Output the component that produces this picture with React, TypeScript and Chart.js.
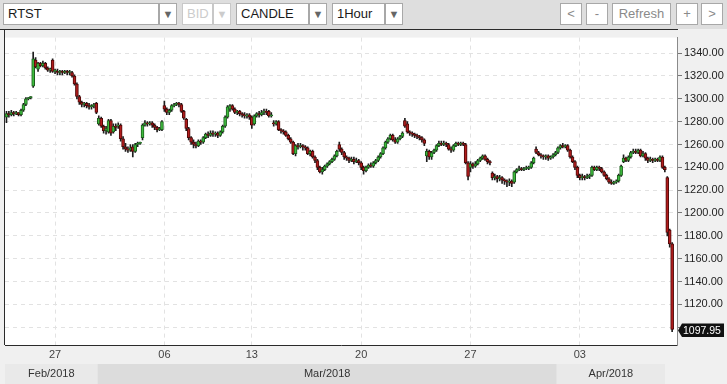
import React, { useEffect, useRef } from 'react';
import { Chart, registerables } from 'chart.js';
Chart.register(...registerables);

// ---- data (hourly candles, RTST) ----
const opens = [
  1284,1287,1286,1288,1287,1288,1286,1290,1295,1300,
  1301,1311,1334,1326,1331,1329,1331,1327,1325,1334,
  1324,1324,1323,1324,1323,1324,1323,1323,1320,1313,
  1302,1297,1295,1296,1294,1293,1294,1296,1278,1283,
  1276,1272,1271,1281,1271,1276,1276,1277,1265,1258,
  1256,1255,1258,1254,1260,1261,1266,1277,1279,1278,
  1279,1277,1275,1273,1273,1294,1291,1288,1290,1294,
  1295,1296,1295,1289,1282,1274,1266,1262,1260,1259,
  1263,1262,1266,1269,1268,1270,1269,1270,1268,1271,
  1276,1284,1291,1294,1291,1288,1289,1287,1286,1285,
  1286,1284,1278,1285,1287,1286,1288,1289,1289,1285,
  1279,1278,1280,1273,1272,1271,1268,1265,1262,1252,
  1259,1258,1259,1258,1257,1252,1254,1249,1246,1240,
  1236,1238,1241,1243,1245,1247,1250,1260,1256,1253,
  1249,1248,1246,1247,1245,1246,1244,1240,1237,1240,
  1242,1241,1244,1246,1249,1252,1257,1262,1265,1268,
  1264,1262,1265,1267,1281,1278,1271,1270,1269,1268,
  1267,1266,1264,1250,1254,1249,1253,1255,1259,1261,
  1260,1261,1260,1256,1255,1259,1261,1260,1261,1260,
  1244,1240,1243,1241,1243,1246,1248,1250,1247,1245,
  1235,1231,1232,1230,1231,1229,1228,1227,1228,1227,
  1236,1238,1239,1238,1239,1239,1240,1244,1256,1253,
  1251,1250,1249,1250,1248,1249,1251,1253,1257,1259,
  1258,1259,1255,1249,1245,1240,1233,1231,1232,1231,
  1232,1233,1240,1238,1240,1239,1236,1233,1230,1227,
  1226,1227,1228,1233,1245,1248,1246,1249,1253,1254,
  1253,1255,1250,1252,1248,1246,1247,1246,1247,1246,
  1249,1240,1231,1185,1173,
];
const highs = [
  1289,1289,1290,1289,1289,1288,1291,1296,1301,1301,
  1302,1341,1336,1332,1332,1333,1332,1328,1327,1335,
  1326,1326,1325,1325,1325,1325,1325,1324,1321,1314,
  1303,1298,1297,1297,1296,1295,1296,1297,1285,1284,
  1277,1276,1282,1282,1278,1278,1279,1278,1267,1261,
  1258,1260,1260,1261,1262,1262,1278,1281,1280,1280,
  1280,1278,1276,1275,1281,1298,1292,1291,1295,1296,
  1297,1297,1296,1290,1283,1275,1267,1264,1262,1264,
  1264,1267,1270,1271,1272,1272,1271,1271,1272,1277,
  1285,1294,1295,1295,1292,1290,1290,1288,1288,1287,
  1287,1285,1286,1288,1289,1290,1291,1291,1290,1288,
  1281,1281,1281,1274,1273,1272,1269,1266,1263,1260,
  1261,1261,1260,1259,1258,1255,1255,1250,1247,1241,
  1240,1242,1244,1246,1248,1251,1255,1262,1257,1254,
  1250,1249,1249,1249,1248,1247,1245,1241,1241,1243,
  1244,1245,1247,1250,1253,1258,1263,1266,1269,1269,
  1266,1266,1268,1271,1283,1280,1272,1271,1270,1269,
  1268,1267,1265,1256,1255,1254,1256,1260,1263,1263,
  1263,1262,1261,1258,1260,1262,1262,1262,1262,1261,
  1245,1245,1244,1245,1247,1249,1251,1251,1248,1246,
  1236,1234,1233,1233,1232,1230,1229,1230,1229,1237,
  1239,1241,1240,1240,1241,1241,1245,1249,1258,1254,
  1252,1251,1251,1251,1250,1252,1254,1258,1260,1261,
  1260,1260,1256,1250,1246,1241,1234,1234,1233,1234,
  1234,1241,1241,1241,1241,1240,1237,1234,1231,1229,
  1228,1229,1234,1242,1251,1249,1250,1254,1256,1256,
  1256,1256,1254,1253,1249,1249,1248,1248,1248,1250,
  1250,1241,1232,1186,1174,
];
const lows = [
  1279,1284,1285,1285,1286,1285,1285,1289,1294,1299,
  1300,1310,1327,1324,1328,1328,1326,1324,1323,1323,
  1322,1321,1321,1321,1322,1321,1321,1319,1312,1300,
  1295,1293,1293,1292,1291,1291,1292,1287,1277,1275,
  1270,1269,1270,1268,1270,1272,1274,1263,1256,1254,
  1253,1254,1249,1253,1258,1260,1264,1276,1276,1277,
  1275,1273,1271,1272,1272,1289,1286,1286,1289,1293,
  1294,1293,1288,1282,1272,1264,1260,1257,1257,1258,
  1260,1261,1265,1266,1267,1267,1267,1266,1267,1270,
  1275,1283,1289,1290,1287,1286,1285,1284,1283,1283,
  1282,1274,1277,1284,1284,1285,1286,1286,1284,1284,
  1276,1277,1272,1270,1269,1267,1264,1261,1251,1250,
  1256,1257,1255,1255,1251,1250,1248,1244,1238,1235,
  1234,1237,1240,1242,1244,1246,1249,1254,1251,1247,
  1246,1244,1245,1243,1244,1242,1238,1234,1236,1239,
  1240,1240,1243,1245,1248,1251,1256,1261,1264,1263,
  1261,1261,1264,1266,1275,1270,1268,1267,1266,1265,
  1264,1262,1259,1245,1247,1247,1252,1254,1258,1259,
  1259,1258,1255,1253,1254,1258,1259,1259,1259,1243,
  1229,1236,1239,1240,1242,1245,1247,1246,1243,1242,
  1229,1229,1227,1228,1226,1225,1223,1224,1223,1226,
  1235,1237,1237,1237,1238,1238,1239,1243,1252,1250,
  1248,1247,1247,1246,1247,1248,1250,1252,1256,1257,
  1257,1254,1248,1244,1238,1231,1229,1229,1229,1230,
  1230,1232,1237,1237,1237,1235,1232,1229,1226,1225,
  1225,1226,1227,1232,1244,1245,1245,1248,1252,1252,
  1252,1249,1249,1246,1244,1245,1244,1245,1245,1245,
  1239,1236,1180,1170,1096,
];
const closes = [
  1287,1286,1288,1287,1288,1286,1290,1295,1300,1301,
  1301,1335,1328,1331,1329,1331,1327,1325,1326,1324,
  1324,1323,1324,1323,1324,1323,1323,1320,1313,1302,
  1297,1295,1296,1294,1293,1294,1295,1288,1283,1276,
  1272,1274,1281,1270,1276,1275,1277,1265,1258,1256,
  1255,1257,1254,1260,1261,1261,1277,1279,1278,1279,
  1277,1275,1273,1274,1280,1291,1288,1290,1294,1295,
  1296,1295,1289,1283,1274,1266,1262,1260,1259,1263,
  1262,1266,1269,1268,1270,1269,1270,1268,1271,1276,
  1284,1293,1294,1291,1288,1289,1287,1286,1285,1286,
  1284,1277,1285,1287,1286,1288,1289,1288,1285,1286,
  1278,1280,1273,1272,1271,1268,1265,1262,1252,1259,
  1258,1259,1258,1257,1252,1254,1249,1246,1240,1236,
  1238,1241,1243,1245,1247,1250,1254,1256,1253,1249,
  1248,1246,1247,1245,1246,1244,1240,1237,1240,1242,
  1241,1244,1246,1249,1252,1257,1262,1265,1268,1264,
  1262,1265,1267,1270,1276,1271,1270,1269,1268,1267,
  1266,1264,1261,1254,1249,1253,1255,1259,1261,1260,
  1261,1260,1256,1255,1259,1261,1260,1261,1260,1244,
  1232,1243,1241,1243,1246,1248,1250,1247,1245,1244,
  1231,1232,1230,1231,1229,1228,1227,1228,1226,1236,
  1238,1239,1238,1239,1239,1240,1244,1248,1253,1251,
  1250,1249,1250,1248,1249,1251,1253,1257,1259,1258,
  1259,1255,1249,1245,1240,1233,1231,1232,1231,1232,
  1233,1240,1238,1240,1239,1236,1233,1230,1227,1226,
  1227,1228,1233,1241,1248,1246,1249,1253,1254,1253,
  1255,1250,1252,1248,1246,1247,1246,1247,1246,1249,
  1240,1238,1183,1173,1097.95,
];

// day ticks (index of first candle of the day) and their labels
const dayTickIndex = [20, 65, 101, 146, 191, 236];
const dayTickLabels = ['27', '06', '13', '20', '27', '03'];
// month bands
const monthLabels = ['Feb/2018', 'Mar/2018', 'Apr/2018'];
const monthFirstIndex = [0, 38, 227];
// price axis ticks
const priceTicks = [1100, 1120, 1140, 1160, 1180, 1200, 1220, 1240, 1260, 1280, 1300, 1320, 1340];

const FONT = '"Liberation Sans", Arial, sans-serif';
const GREEN = '#3dbb3d';
const GREEN_EDGE = '#1d5e1d';
const RED = '#b01c1c';
const RED_EDGE = '#4e0808';
const LAST = closes[closes.length - 1];

const framePlugin = {
  id: 'frame',
  beforeDraw(chart: any) {
    const { ctx, chartArea: a, width, height } = chart;
    const xs = chart.scales.x;
    ctx.save();
    ctx.fillStyle = '#f0f0f0';
    ctx.fillRect(0, 0, width, height);
    ctx.fillStyle = '#ffffff';
    ctx.fillRect(a.left, a.top, a.right - a.left, a.bottom - a.top);
    const bandTop = a.bottom + 19;
    monthFirstIndex.forEach((start, k) => {
      const x0 = k === 0 ? a.left : xs.getPixelForValue(start - 0.5);
      const x1 = k === monthFirstIndex.length - 1 ? a.right - 12 : xs.getPixelForValue(monthFirstIndex[k + 1] - 0.5);
      ctx.fillStyle = k % 2 === 1 ? '#dcdcdc' : '#e9e9e9';
      ctx.fillRect(x0, bandTop, x1 - x0, height - bandTop);
      ctx.fillStyle = '#333';
      ctx.font = '11px ' + FONT;
      ctx.textAlign = 'center';
      ctx.textBaseline = 'middle';
      ctx.fillText(monthLabels[k], (x0 + x1) / 2, (bandTop + height) / 2);
    });
    ctx.restore();
  },
  afterDraw(chart: any) {
    const { ctx, chartArea: a, width } = chart;
    const ys = chart.scales.y;
    ctx.save();
    ctx.strokeStyle = '#2a2a2a';
    ctx.lineWidth = 1;
    ctx.beginPath();
    ctx.moveTo(0, 0.5);
    ctx.lineTo(a.right + 1, 0.5);
    ctx.moveTo(a.left - 0.5, 0);
    ctx.lineTo(a.left - 0.5, a.bottom);
    ctx.stroke();
    // last price label
    const py = Math.round(ys.getPixelForValue(LAST)) + 0.5;
    const x0 = a.right + 1;
    ctx.fillStyle = '#111';
    ctx.beginPath();
    ctx.moveTo(x0, py);
    ctx.lineTo(x0 + 4, py - 7);
    ctx.lineTo(width - 3, py - 7);
    ctx.lineTo(width - 3, py + 6.5);
    ctx.lineTo(x0 + 4, py + 6.5);
    ctx.closePath();
    ctx.fill();
    ctx.fillStyle = '#fff';
    ctx.font = '10.5px ' + FONT;
    ctx.textAlign = 'left';
    ctx.textBaseline = 'middle';
    ctx.fillText(LAST.toFixed(2), x0 + 5, py + 0.5);
    ctx.restore();
  },
};

type Box = { l: number; w: number; t: string; kind: 'input' | 'arrow' | 'btn'; dis?: boolean };
const toolbar: Box[] = [
  { l: 3, w: 156, t: 'RTST', kind: 'input' },
  { l: 159, w: 18, t: '▼', kind: 'arrow' },
  { l: 182, w: 31, t: 'BID', kind: 'input', dis: true },
  { l: 213, w: 18, t: '▼', kind: 'arrow', dis: true },
  { l: 236, w: 73, t: 'CANDLE', kind: 'input' },
  { l: 309, w: 18, t: '▼', kind: 'arrow' },
  { l: 332, w: 53, t: '1Hour', kind: 'input' },
  { l: 385, w: 18, t: '▼', kind: 'arrow' },
  { l: 560, w: 22, t: '<', kind: 'btn' },
  { l: 586, w: 22, t: '-', kind: 'btn' },
  { l: 612, w: 59, t: 'Refresh', kind: 'btn' },
  { l: 676, w: 22, t: '+', kind: 'btn' },
  { l: 701, w: 22, t: '>', kind: 'btn' },
];

export default function App() {
  const ref = useRef<HTMLCanvasElement>(null);
  useEffect(() => {
    const idx = closes.map((_, i) => i);
    const up = idx.map((i) => closes[i] >= opens[i]);
    const chart = new Chart(ref.current as HTMLCanvasElement, {
      type: 'bar',
      data: {
        datasets: [
          {
            label: 'body',
            data: idx.map((i) => ({ x: i, y: [opens[i], closes[i]] })) as any,
            backgroundColor: up.map((u) => (u ? GREEN : RED)),
            borderColor: up.map((u) => (u ? GREEN_EDGE : RED_EDGE)),
            borderWidth: 1,
            borderSkipped: false,
            barThickness: 3,
            minBarLength: 1,
            grouped: false,
            order: 0,
          } as any,
          {
            label: 'wick',
            data: idx.map((i) => ({ x: i, y: [lows[i], highs[i]] })) as any,
            backgroundColor: '#1e1e1e',
            borderWidth: 0,
            barThickness: 1,
            grouped: false,
            order: 1,
          } as any,
        ],
      },
      options: {
        responsive: false,
        animation: false,
        events: [],
        layout: { padding: { left: 5, top: 1, right: 0, bottom: 0 } },
        plugins: { legend: { display: false }, tooltip: { enabled: false } },
        scales: {
          x: {
            type: 'linear',
            bounds: 'data',
            offset: false,
            min: -0.6,
            max: 276,
            afterBuildTicks: (s: any) => {
              s.ticks = dayTickIndex.map((v) => ({ value: v }));
            },
            afterFit: (s: any) => {
              s.height = 39;
            },
            ticks: {
              autoSkip: false,
              maxRotation: 0,
              padding: 3,
              color: '#444',
              font: { family: FONT, size: 11 },
              callback: (v: any) => {
                const k = dayTickIndex.indexOf(Number(v));
                return k >= 0 ? dayTickLabels[k] : '';
              },
            },
            grid: { color: '#e2e2e2', drawTicks: false, offset: false, tickBorderDash: [] } as any,
            border: { color: '#2a2a2a', dash: [4, 4] },
          } as any,
          y: {
            type: 'linear',
            position: 'right',
            bounds: 'data',
            min: 1084.4,
            max: 1353.6,
            afterBuildTicks: (s: any) => {
              s.ticks = priceTicks.map((v) => ({ value: v }));
            },
            afterFit: (s: any) => {
              s.width = 50;
            },
            ticks: {
              padding: 2,
              color: '#222',
              font: { family: FONT, size: 11 },
              // the last-price tag covers the tick label that it overlaps
              callback: (v: any) => (Math.abs(Number(v) - LAST) < 9 ? '' : Number(v).toFixed(2)),
            },
            grid: { color: '#e2e2e2', tickColor: '#777', tickLength: 5, tickBorderDash: [] } as any,
            border: { color: '#8a8a8a', dash: [4, 4] },
          } as any,
        },
      },
      plugins: [framePlugin],
    });
    return () => chart.destroy();
  }, []);

  return (
    <div
      style={{
        position: 'fixed',
        left: 0,
        top: 0,
        width: 727,
        height: 384,
        background: '#dedede',
        fontFamily: FONT,
        overflow: 'hidden',
      }}
    >
      {toolbar.map((b, i) => (
        <div
          key={i}
          style={{
            position: 'absolute',
            left: b.l,
            top: 3,
            width: b.w,
            height: 22,
            boxSizing: 'border-box',
            border: '1px solid ' + (b.dis ? '#c8c8c8' : '#a8a8a8'),
            background: '#fff',
            fontSize: b.kind === 'arrow' ? 11 : 13,
            lineHeight: '20px',
            paddingLeft: b.kind === 'input' ? 4 : 0,
            textAlign: b.kind === 'input' ? 'left' : 'center',
            color: b.dis ? '#cccccc' : b.kind === 'input' ? '#1a1a1a' : b.kind === 'arrow' ? '#666' : '#8a8a8a',
            whiteSpace: 'nowrap',
          }}
        >
          {b.t}
        </div>
      ))}
      <canvas
        ref={ref}
        width={727}
        height={355}
        style={{ position: 'absolute', left: 0, top: 29, width: 727, height: 355 }}
      />
    </div>
  );
}
